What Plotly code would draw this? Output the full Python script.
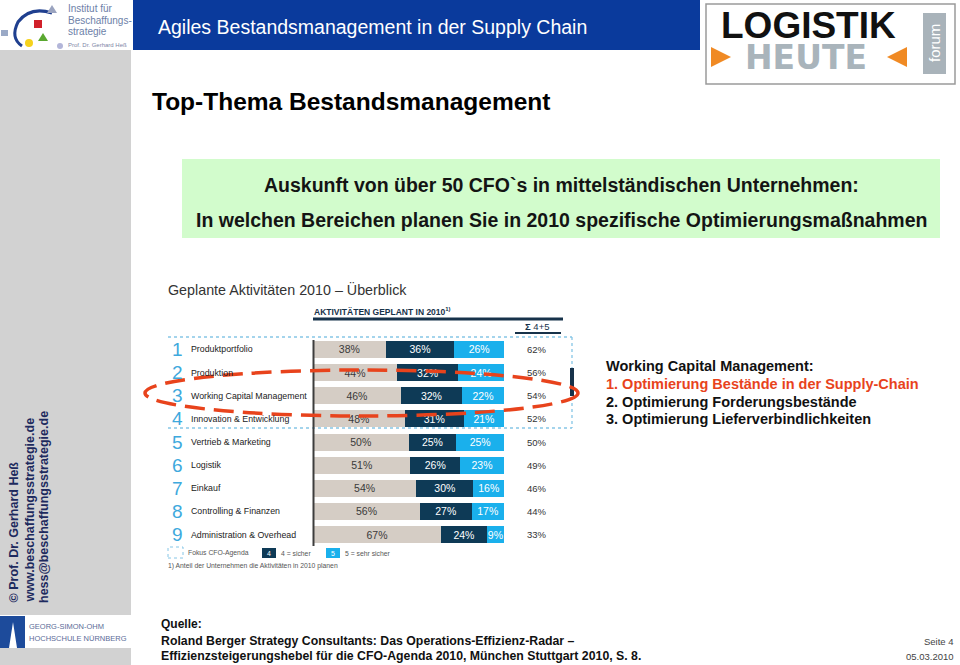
import plotly.graph_objects as go

# ---------------- data ----------------
ranks = ["1", "2", "3", "4", "5", "6", "7", "8", "9"]
categories = ["Produktportfolio", "Produktion", "Working Capital Management",
              "Innovation & Entwicklung", "Vertrieb & Marketing", "Logistik",
              "Einkauf", "Controlling & Finanzen", "Administration & Overhead"]
rest = [38, 44, 46, 48, 50, 51, 54, 56, 67]
sicher = [36, 32, 32, 31, 25, 26, 30, 27, 24]          # 4 = sicher
sehr_sicher = [26, 24, 22, 21, 25, 23, 16, 17, 9]      # 5 = sehr sicher
summe = [62, 56, 54, 52, 50, 49, 46, 44, 33]           # Σ 4+5

wcm_lines = ["Working Capital Management:",
             "1. Optimierung Bestände in der Supply-Chain",
             "2. Optimierung Forderungsbestände",
             "3. Optimierung Lieferverbindlichkeiten"]

# ---------------- helpers ----------------
W, H = 960, 665
def fx(x): return x / W
def fy(y): return 1 - y / H

ARIAL = "Liberation Sans, Arial, sans-serif"
NARROW = "Liberation Sans Narrow, Arial Narrow, Liberation Sans, Arial, sans-serif"

shapes = []
annotations = []

def rect(x0, y0, x1, y1, fill=None, line=None, lw=0, dash=None):
    d = dict(type="rect", xref="paper", yref="paper",
             x0=fx(x0), x1=fx(x1), y0=fy(y1), y1=fy(y0), layer="above",
             line=dict(width=lw, color=line or "rgba(0,0,0,0)"))
    if dash:
        d["line"]["dash"] = dash
    if fill:
        d["fillcolor"] = fill
    shapes.append(d)

def line(x0, y0, x1, y1, color, lw=1, dash=None):
    d = dict(type="line", xref="paper", yref="paper",
             x0=fx(x0), x1=fx(x1), y0=fy(y0), y1=fy(y1), layer="above",
             line=dict(color=color, width=lw))
    if dash:
        d["line"]["dash"] = dash
    shapes.append(d)

def path(pts, fill, close=True):
    p = "M " + " L ".join(f"{fx(x)},{fy(y)}" for x, y in pts) + (" Z" if close else "")
    shapes.append(dict(type="path", xref="paper", yref="paper", path=p,
                       fillcolor=fill, line=dict(width=0), layer="above"))

def circ(cx, cy, r, fill=None, line_c=None, lw=0):
    d = dict(type="circle", xref="paper", yref="paper",
             x0=fx(cx - r), x1=fx(cx + r), y0=fy(cy + r), y1=fy(cy - r), layer="above",
             line=dict(width=lw, color=line_c or "rgba(0,0,0,0)"))
    if fill:
        d["fillcolor"] = fill
    shapes.append(d)

def text(x, y, s, size, color="#000", xanchor="left", family=ARIAL,
         yanchor="middle", angle=0, yref="paper"):
    annotations.append(dict(
        x=fx(x), y=(fy(y) if yref == "paper" else y), xref="paper", yref=yref,
        text=s, showarrow=False, xanchor=xanchor, yanchor=yanchor,
        textangle=angle, borderpad=0,
        font=dict(size=size, color=color, family=family)))

# ---------------- bars ----------------
bar_common = dict(orientation="h", y=categories, textposition="inside",
                  insidetextanchor="middle", texttemplate="%{x}%",
                  hoverinfo="skip", showlegend=False, marker_line_width=0,
                  cliponaxis=False)
traces = [
    go.Bar(x=rest, marker_color="#d5cdc5",
           textfont=dict(color="#3a3a3a", size=10.5, family=NARROW), **bar_common),
    go.Bar(x=sicher, marker_color="#0e3a56",
           textfont=dict(color="#ffffff", size=10.5, family=NARROW), **bar_common),
    go.Bar(x=sehr_sicher, marker_color="#1ab0ec",
           textfont=dict(color="#ffffff", size=10.5, family=NARROW), **bar_common),
]
fig = go.Figure(traces)

# ---------------- header ----------------
rect(0, 0, 131, 50, fill="#ffffff")
rect(133, 0, 700, 50, fill="#0a3a9c")
text(157, 27, "Agiles Bestandsmanagement in der Supply Chain", 19.5, "#ffffff", family=NARROW)

# institute logo (left)
shapes.append(dict(type="path", xref="paper", yref="paper", layer="above",
                   path=(f"M {fx(52)},{fy(13)} Q {fx(30)},{fy(6)} {fx(18)},{fy(22)} "
                         f"Q {fx(10)},{fy(38)} {fx(22)},{fy(46)}"),
                   line=dict(color="#1f3f8f", width=3)))
rect(34, 20, 42, 28, fill="#d1202a")
path([(47, 13), (52, 5), (57, 13)], "#9aa3bf")
rect(1, 30, 8, 36, fill="#9aa9c6")
circ(29, 43, 4, fill="#f5d21c")
path([(38, 41), (43, 33), (48, 41)], "#5aa830")
circ(60, 46, 3, fill="#b3b6d9")
text(67, 8, "Institut für", 10, "#6d7fa8", family=NARROW)
text(67, 20, "Beschaffungs-", 10, "#6d7fa8", family=NARROW)
text(67, 32, "strategie", 10, "#6d7fa8", family=NARROW)
text(67, 45, "Prof. Dr. Gerhard Heß", 6, "#7d86a6", family=NARROW)

# Logistik Heute logo (right)
rect(706, 4, 955, 84, fill="#ffffff", line="#9a9a9a", lw=1.5)
text(808, 25, "<b>LOGISTIK</b>", 37, "#111111", xanchor="center")
text(806, 57, "<b>HEUTE</b>", 33, "#a9b4bb", xanchor="center", family="DejaVu Sans, Liberation Sans, sans-serif")
path([(711, 47), (731, 57), (711, 67)], "#f08a24")
path([(907, 47), (887, 57), (907, 67)], "#f08a24")
rect(923, 13, 946, 74, fill="#a9b3ba")
text(935, 43, "forum", 15, "#ffffff", xanchor="center", angle=-90)

# ---------------- sidebar ----------------
rect(0, 50, 131, 615, fill="#d2d2d2")
rect(0, 648, 131, 665, fill="#d2d2d2")
text(13, 604, "<b>© Prof. Dr. Gerhard Heß</b>", 12.5, "#1d2a5e", xanchor="center", yanchor="bottom", angle=-90)
text(29, 604, "<b>www.beschaffungsstrategie.de</b>", 12.5, "#1d2a5e", xanchor="center", yanchor="bottom", angle=-90)
text(44, 604, "<b>hess@beschaffungsstrategie.de</b>", 12.5, "#1d2a5e", xanchor="center", yanchor="bottom", angle=-90)
# Georg-Simon-Ohm logo
rect(0, 616, 25, 648, fill="#1d4b9b")
path([(9, 648), (13, 622), (17, 648)], "#ffffff")
text(28, 626, "GEORG-SIMON-OHM", 7.5, "#5c6c98", family=NARROW)
text(28, 638, "HOCHSCHULE NÜRNBERG", 7.5, "#5c6c98", family=NARROW)

# ---------------- title and question box ----------------
text(151, 102, "<b>Top-Thema Bestandsmanagement</b>", 24.5, "#000000")
rect(182, 159, 940, 238, fill="#d2fccc")
text(561, 185, "<b>Auskunft von über 50 CFO`s in mittelständischen Unternehmen:</b>", 19.5, "#141414", xanchor="center")
text(561, 220, "<b>In welchen Bereichen planen Sie in 2010 spezifische Optimierungsmaßnahmen</b>", 19.5, "#141414", xanchor="center")

# ---------------- chart decoration ----------------
text(167, 289, "Geplante Aktivitäten 2010 – Überblick", 14.3, "#333333", family=NARROW)
text(313, 311, "<b>AKTIVITÄTEN GEPLANT IN 2010<sup>1)</sup></b>", 8.5, "#17324a", family=NARROW)
line(313, 319, 563, 319, "#17324a", 3)
text(537, 326, "<b>Σ</b> 4+5", 9.5, "#17324a", xanchor="center", family=NARROW)
line(515, 333, 561, 333, "#17324a", 2)

# focus box (dotted)
line(168, 337, 572, 337, "#86c6e6", 1.3, "dot")
line(168, 428, 572, 428, "#86c6e6", 1.3, "dot")
line(572, 337, 572, 428, "#86c6e6", 1.3, "dot")
rect(570, 368, 574, 396, fill="#17324a")

# axis divider
line(313.5, 340, 313.5, 546, "#3d3d3d", 2)

for r, c, s in zip(ranks, categories, summe):
    text(177, c, r, 19, "#3ea9dd", xanchor="center", family=NARROW, yref="y")
    text(190, c, c, 8.8, "#222222", family=NARROW, yref="y")
    text(537, c, f"{s}%", 9.5, "#333333", xanchor="center", family=NARROW, yref="y")

# legend
rect(168, 547, 183, 558, line="#86c6e6", lw=1, dash="dot")
text(187, 553, "Fokus CFO-Agenda", 6.8, "#555555", family=NARROW)
rect(262, 548, 276, 558, fill="#0e3a56")
text(269, 553, "4", 7, "#ffffff", xanchor="center")
text(280, 553, "4 = sicher", 6.8, "#555555", family=NARROW)
rect(326, 548, 340, 558, fill="#1ab0ec")
text(333, 553, "5", 7, "#ffffff", xanchor="center")
text(344, 553, "5 = sehr sicher", 6.8, "#555555", family=NARROW)
text(167, 566, "1) Anteil der Unternehmen die Aktivitäten in 2010 planen", 6.8, "#555555", family=NARROW)

# red dashed ellipse
shapes.append(dict(type="circle", xref="paper", yref="paper", layer="above",
                   x0=fx(145), x1=fx(578), y0=fy(416), y1=fy(370),
                   line=dict(color="#e8431c", width=3.5, dash="20px,9px")))

# ---------------- right text ----------------
for i, (s, yy) in enumerate(zip(wcm_lines, [366, 384, 402, 419])):
    text(605, yy, f"<b>{s}</b>", 14.5, "#e8431c" if i == 1 else "#111111")

# ---------------- footer ----------------
text(160, 624, "<b>Quelle:</b>", 12, "#111111", family=NARROW)
text(160, 641, "<b>Roland Berger Strategy Consultants: Das Operations-Effizienz-Radar –</b>", 12.3, "#111111", family=NARROW)
text(160, 656, "<b>Effizienzsteigerungshebel für die CFO-Agenda 2010, München Stuttgart 2010, S. 8.</b>", 12.3, "#111111", family=NARROW)
text(955, 641, "Seite 4", 9.5, "#444444", xanchor="right", family=NARROW)
text(955, 656, "05.03.2010", 9.5, "#444444", xanchor="right", family=NARROW)

fig.update_layout(
    width=W, height=H, margin=dict(l=0, r=0, t=0, b=0),
    paper_bgcolor="#ffffff", plot_bgcolor="rgba(0,0,0,0)",
    barmode="stack", bargap=0.265,
    uniformtext=dict(minsize=10.5, mode="show"),
    xaxis=dict(domain=[fx(313), fx(504)], range=[0, 100], visible=False, fixedrange=True),
    yaxis=dict(domain=[fy(546.1), fy(337.9)], type="category", autorange="reversed",
               visible=False, fixedrange=True),
    shapes=shapes, annotations=annotations, hovermode=False,
)
fig.write_html("out.html", config={"displayModeBar": False},
               post_script="document.body.style.margin='0px';document.body.style.overflow='hidden';")
